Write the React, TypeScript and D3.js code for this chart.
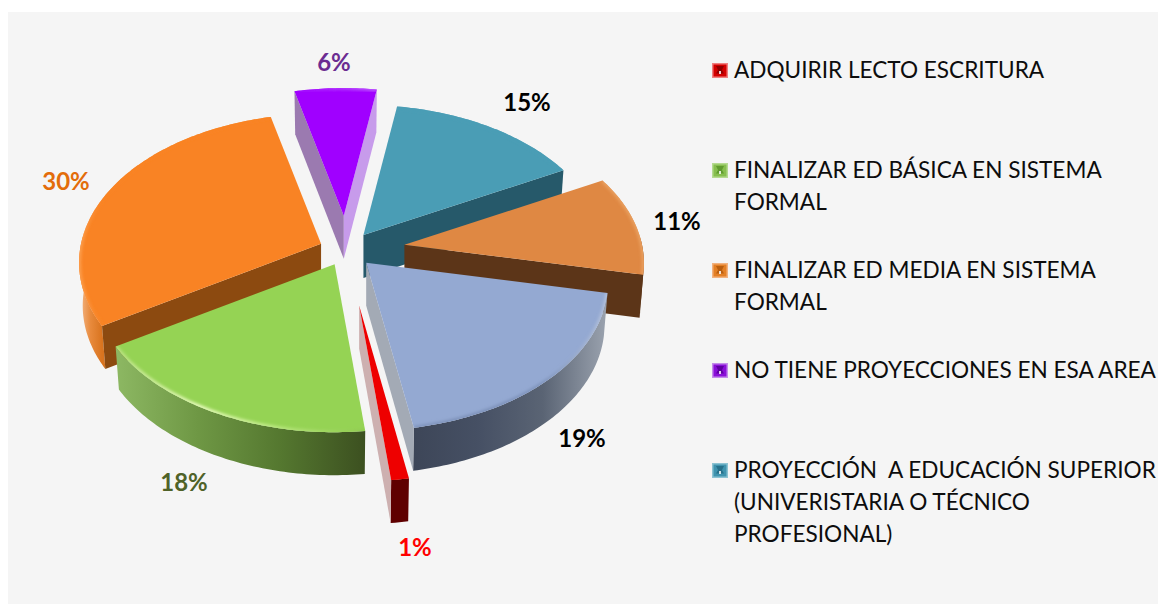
import React from "react";
import * as d3 from "d3";

// ---- data ----
const sliceNames = ["ADQUIRIR", "BASICA", "MEDIA", "NO TIENE", "SUPERIOR", "OTRO A", "OTRO B"];
const sliceValues = [1, 18, 30, 6.3, 14.7, 11, 19];
const sliceLabels = ["1%", "18%", "30%", "6%", "15%", "11%", "19%"];
const legendEntries = [
  ["ADQUIRIR LECTO ESCRITURA"],
  ["FINALIZAR ED BÁSICA EN SISTEMA", "FORMAL"],
  ["FINALIZAR ED MEDIA EN SISTEMA", "FORMAL"],
  ["NO TIENE PROYECCIONES EN ESA AREA"],
  ["PROYECCIÓN  A EDUCACIÓN SUPERIOR", "(UNIVERISTARIA O TÉCNICO", "PROFESIONAL)"],
];

// ---- styles ----
const topColors = ["#EE0000", "#95D354", "#F98324", "#A000FF", "#4A9DB5", "#DF8843", "#94A9D2"];
const radialWall: Record<string, string> = { "0": "#CDB0B0", "2": "#8C4A10", "3": "#9B7AB0", "4": "#26596A", "5": "#5C3518", "6": "#A3AAB5" };
const endWallLight: Record<string, string> = { "3": "#C79BEB" };
const outerWallStops = [
  ["#5F0000", "#5F0000"],
  ["#8DB863", "#6E9744", "#54772F", "#3C5020"],
  ["#F4B98B", "#E88A3C", "#D9741F"],
  ["#9B7AB0", "#9B7AB0"],
  ["#26596A", "#26596A"],
  ["#5C3518", "#5C3518"],
  ["#3D4658", "#465064", "#5A6474", "#9BA3AF"],
];
const bevelStops = [
  ["#EE0000", "#EE0000"],
  ["#B7E07E", "#EAFCC0", "#B7E67C", "#8FC94F"],
  ["#FDA050", "#FA8E35", "#F98324"],
  ["#A000FF", "#C060FF"],
  ["#4A9DB5", "#4A9DB5"],
  ["#E9A060", "#E9A060"],
  ["#7F94BC", "#7C90B8", "#7F94BC", "#B5C3DD"],
];
const labelColors = ["#FF0000", "#4F6228", "#E36C0A", "#6B2C91", "#000000", "#000000", "#000000"];
const swatchColors = ["#D40000", "#86BE4E", "#E37F25", "#8A0FD8", "#3F93AE"];
const swatchEdge = ["#F08080", "#B5DA90", "#F2B27F", "#C48CEB", "#8CC3D3"];
const swatchCore = ["#8E0000", "#5F9A2E", "#B85E10", "#5E00A0", "#26708A"];

// ---- layout ----
const W = 1158, H = 606;
const cx = 346, cy = 250;
const R = 240, kR = 146.6, persp = 0.127;
const depth = 43, bottomShrink = 0.985;
const explode = [92, 26, 27, 56, 30, 59, 29];
const reach = [1.04, 1, 1, 0.98, 1, 0.99, 1];
const drawOrder = [3, 4, 5, 2, 1, 6, 0];
const labelX = [415, 184, 66, 334, 527, 677, 582];
const labelY = [546.5, 481.5, 180.5, 61.5, 101.5, 220.5, 437.5];
const legendY = [69, 169, 269, 369, 469];
const legendLine = 32.4;

const TAU = Math.PI * 2;
const startDeg = 170;
const pie = d3.pie<number>().sort(null).startAngle((startDeg * TAU) / 360).endAngle((startDeg * TAU) / 360 + TAU);
const arcs = pie(sliceValues);
const yF = d3.scaleLinear().domain([0, 1]).range([0, kR / R]);

function tipOf(i: number) {
  const mid = (arcs[i].startAngle + arcs[i].endAngle) / 2;
  return [cx + explode[i] * Math.sin(mid), cy - yF(explode[i]) * Math.cos(mid)];
}
function project(i: number, a: number, r: number, bottom = false): [number, number] {
  const [tx, ty] = tipOf(i);
  const rr = r * reach[i];
  const u = rr * Math.sin(a), v = -rr * Math.cos(a);
  const s = 1 / (1 - persp * v);
  const px = R * u * s * (bottom ? bottomShrink : 1);
  const py = kR * v * s + (bottom ? depth : 0);
  return [tx + px, ty + py];
}
const line = d3.line();
function arcPts(i: number, a0: number, a1: number, bottom = false) {
  const n = Math.max(2, Math.ceil(Math.abs(a1 - a0) * 60));
  return d3.range(n + 1).map((j) => project(i, a0 + ((a1 - a0) * j) / n, 1, bottom));
}
const facePath = (i: number) => line([project(i, 0, 0), ...arcPts(i, arcs[i].startAngle, arcs[i].endAngle)]) + "Z";
const radial = (i: number, a: number) =>
  line([project(i, a, 0), project(i, a, 1), project(i, a, 1, true), project(i, a, 0, true)]) + "Z";

function outerRange(i: number): [number, number] | null {
  const shift = arcs[i].startAngle >= TAU ? TAU : 0;
  const a0 = Math.max(arcs[i].startAngle - shift, Math.PI / 2 - 0.05);
  const a1 = Math.min(arcs[i].endAngle - shift, (3 * Math.PI) / 2 + 0.05);
  if (a1 > a0) return [a0, a1];
  return null;
}
function gradientBox(i: number) {
  const r = outerRange(i);
  const xs = (r ? arcPts(i, r[0], r[1]) : arcPts(i, arcs[i].startAngle, arcs[i].endAngle)).map((p) => p[0]);
  return [d3.min(xs)!, d3.max(xs)!];
}
function Stops({ colors }: { colors: string[] }) {
  return (
    <>
      {colors.map((c, j) => (
        <stop key={j} offset={j / (colors.length - 1)} stopColor={c} />
      ))}
    </>
  );
}

export default function App() {
  return (
    <svg width={W} height={H} viewBox={`0 0 ${W} ${H}`} style={{ position: "fixed", left: 0, top: 0, background: "#fff" }}>
      <defs>
        <filter id="soft" x="-10%" y="-10%" width="120%" height="120%">
          <feGaussianBlur stdDeviation="1.4" />
        </filter>
        {sliceNames.map((_, i) => {
          const [x0, x1] = gradientBox(i);
          return (
            <React.Fragment key={i}>
              <linearGradient id={`wall${i}`} gradientUnits="userSpaceOnUse" x1={x0} x2={x1} y1={0} y2={0}>
                <Stops colors={outerWallStops[i]} />
              </linearGradient>
              <linearGradient id={`bevel${i}`} gradientUnits="userSpaceOnUse" x1={x0} x2={x1} y1={0} y2={0}>
                <Stops colors={bevelStops[i]} />
              </linearGradient>
              <clipPath id={`clip${i}`}>
                <path d={facePath(i)} />
              </clipPath>
            </React.Fragment>
          );
        })}
      </defs>
      <rect x={8} y={12} width={W - 8} height={592} fill="#F5F5F5" />
      {drawOrder.map((i) => {
        const a = arcs[i];
        const range = outerRange(i);
        const showStart = Math.sin(a.startAngle) < 0;
        const showEnd = Math.sin(a.endAngle) >= 0;
        return (
          <g key={i}>
            {range && (
              <path
                d={line([...arcPts(i, range[0], range[1]), ...arcPts(i, range[1], range[0], true)]) + "Z"}
                fill={`url(#wall${i})`}
              />
            )}
            {showStart && <path d={radial(i, a.startAngle)} fill={radialWall[i]} />}
            {showEnd && <path d={radial(i, a.endAngle)} fill={endWallLight[i] ?? radialWall[i]} />}
            <path d={facePath(i)} fill={topColors[i]} />
            <g clipPath={`url(#clip${i})`}>
              <path
                d={line(arcPts(i, a.startAngle, a.endAngle))!}
                fill="none"
                stroke={`url(#bevel${i})`}
                strokeWidth={4}
                filter="url(#soft)"
              />
            </g>
          </g>
        );
      })}
      {sliceLabels.map((t, i) => (
        <text
          key={i}
          x={labelX[i]}
          y={labelY[i]}
          textAnchor="middle"
          dominantBaseline="central"
          fontFamily="Lato, 'Open Sans', sans-serif"
          fontWeight={700}
          fontSize={24}
          fill={labelColors[i]}
        >
          {t}
        </text>
      ))}
      {legendEntries.map((lines, i) => (
        <g key={i}>
          <rect x={712} y={legendY[i] - 6} width={16} height={15} fill={swatchEdge[i]} />
          <rect x={713.5} y={legendY[i] - 4.5} width={13} height={12} fill={swatchColors[i]} />
          <path d={`M716 ${legendY[i] - 3}h8l-2 4l2 3.5h-8l2-3.5z`} fill={swatchCore[i]} />
          <rect x={719} y={legendY[i] + 2} width={2} height={3} fill="#fff" opacity={0.8} />
          {lines.map((l, j) => (
            <text
              key={j}
              x={734}
              y={legendY[i] + j * legendLine}
              dominantBaseline="central"
              fontFamily="Lato, 'Open Sans', sans-serif"
              fontSize={22.6}
              fill="#0D0D0D"
              style={{ whiteSpace: "pre" }}
            >
              {l}
            </text>
          ))}
        </g>
      ))}
    </svg>
  );
}
